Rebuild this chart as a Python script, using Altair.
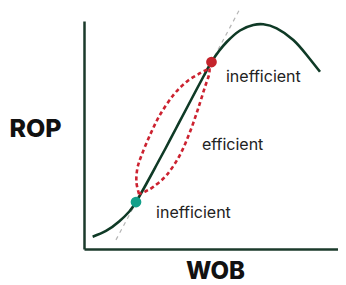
import altair as alt
import pandas as pd

# Main ROP-vs-WOB curve (arbitrary units)
curve_wob = [3.3, 8.4, 13.4, 17.3, 19.85, 23.66, 27.48, 31.3, 35.11, 38.93, 42.75, 45.8,
             48.66, 51.53, 54.47, 59.54, 64.62, 68.44, 73.55, 79.89, 85.0, 90.08]
curve_rop = [5.4, 7.9, 12.06, 16.45, 20.61, 28.29, 36.4, 44.52, 52.85, 61.18, 69.52, 76.1,
             82.02, 86.84, 90.79, 95.83, 98.25, 98.55, 96.8, 91.67, 85.09, 77.76]

# Dotted "efficient" envelope: left and right branches
left_wob = [21.0, 20.0, 20.4, 22.0, 25.2, 29.0, 34.1, 39.2, 44.3, 47.9]
left_rop = [24.1, 29.4, 35.5, 41.2, 50.0, 58.8, 67.5, 73.4, 77.1, 79.2]
right_wob = [47.9, 47.7, 46.2, 43.6, 40.5, 36.6, 31.6, 26.5, 23.3, 21.0]
right_rop = [79.2, 76.3, 71.2, 61.7, 51.5, 41.2, 32.5, 27.3, 25.2, 24.1]

# Secant (dashed) line through the two points
tangent_wob = [12.2, 60.3]
tangent_rop = [4.0, 107.0]

# Points
point_wob = [48.66, 19.85]
point_rop = [82.0, 20.6]
point_color = ["#c4232b", "#13a08a"]

# Labels
label_text = ["inefficient", "efficient", "inefficient"]
label_wob = [54.2, 45.0, 27.5]
label_rop = [73.3, 43.4, 13.6]

X = alt.Scale(domain=[0, 96.95], nice=False, zero=False)
Y = alt.Scale(domain=[0, 100], nice=False, zero=False)

curve_df = pd.DataFrame({"wob": curve_wob, "rop": curve_rop, "i": range(len(curve_wob))})
env_df = pd.DataFrame({
    "wob": left_wob + right_wob,
    "rop": left_rop + right_rop,
    "side": ["left"] * len(left_wob) + ["right"] * len(right_wob),
    "i": list(range(len(left_wob))) + list(range(len(right_wob))),
})
tan_df = pd.DataFrame({"wob": tangent_wob, "rop": tangent_rop})
pt_df = pd.DataFrame({"wob": point_wob, "rop": point_rop, "c": point_color})
lab_df = pd.DataFrame({"wob": label_wob, "rop": label_rop, "t": label_text})

x_enc = alt.X("wob:Q", scale=X, axis=alt.Axis(
    title="WOB", domain=True, domainColor="#1b3a2b", domainWidth=2.5,
    ticks=False, labels=False, grid=False,
    titleFont="Inter", titleFontSize=24, titleFontWeight=800, titleColor="#111",
    titleX=131, titleY=22.5, titleAlign="center", titleBaseline="middle"))
y_enc = alt.Y("rop:Q", scale=Y, axis=alt.Axis(
    title="ROP", domain=True, domainColor="#1b3a2b", domainWidth=2.5,
    ticks=False, labels=False, grid=False,
    titleFont="Inter", titleFontSize=25, titleFontWeight=800, titleColor="#111",
    titleAngle=0, titleX=-49, titleY=107, titleAlign="center", titleBaseline="middle"))

tangent = alt.Chart(tan_df).mark_line(
    color="#b5b5b5", strokeWidth=1.2, strokeDash=[4, 4]
).encode(x=x_enc, y=y_enc)

curve = alt.Chart(curve_df).mark_line(
    color="#0f3a26", strokeWidth=2.6, interpolate="natural"
).encode(x=x_enc, y=y_enc, order="i:Q")

envelope = alt.Chart(env_df).mark_line(
    color="#cc2230", strokeWidth=2.6, strokeDash=[4, 3], interpolate="cardinal"
).encode(x=x_enc, y=y_enc, detail="side:N", order="i:Q")

points = alt.Chart(pt_df).mark_circle(size=115, opacity=1).encode(
    x=x_enc, y=y_enc, color=alt.Color("c:N", scale=None),
)

labels = alt.Chart(lab_df).mark_text(
    align="left", baseline="alphabetic", font="Inter", fontSize=16, color="#222"
).encode(x=x_enc, y=y_enc, text="t:N")

chart = alt.layer(tangent, curve, envelope, points, labels).properties(
    width=254, height=228,
    autosize=alt.AutoSizeParams(type="none"),
    padding={"left": 76, "top": 13, "right": 0, "bottom": 36},
    background="white",
).configure_view(stroke=None)

chart.save("out.html", embed_options={"renderer": "svg", "actions": False})
